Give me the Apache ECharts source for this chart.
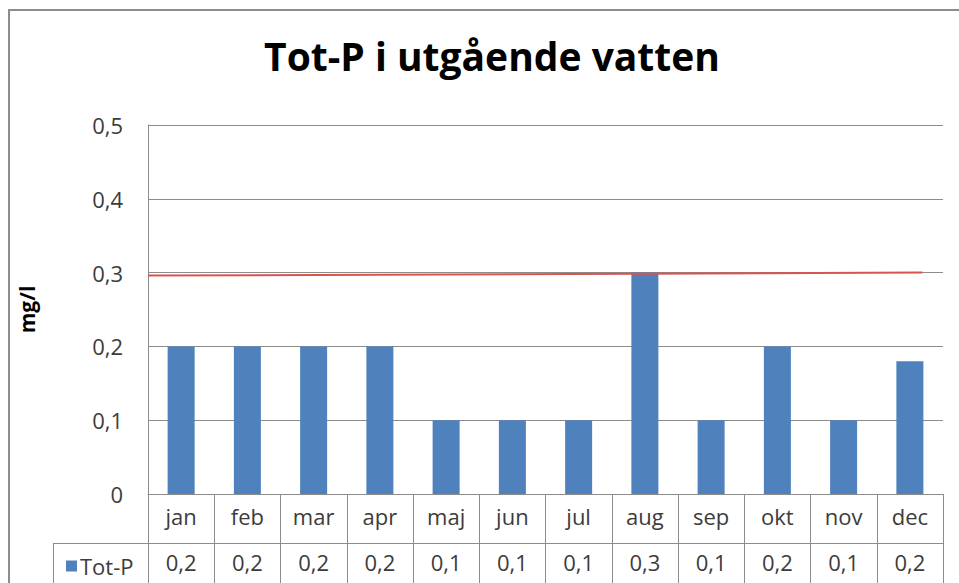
<!DOCTYPE html>
<html>
<head>
<meta charset="utf-8">
<script src="https://cdn.jsdelivr.net/npm/echarts@6/dist/echarts.min.js"></script>
<style>
    html, body { margin:0; padding:0; background:#fff; }
    #main { width:959px; height:583px; }
</style>
</head>
<body>
    <div id="main"></div>
    <script type="text/javascript">
        // data
        var months = ['jan','feb','mar','apr','maj','jun','jul','aug','sep','okt','nov','dec'];
        var totP = [0.2, 0.2, 0.2, 0.2, 0.1, 0.1, 0.1, 0.3, 0.1, 0.2, 0.1, 0.18];
        var yTicks = [0, 0.1, 0.2, 0.3, 0.4, 0.5];
        // red line (x as share of plot width, y in mg/l)
        var limitLine = [[0, 0.296], [0.974, 0.3]];

        var txt = '#3c3c3c';
        var gray = '#8c8c8c';
        var font = 'Open Sans';
        var fs = 22;

        function comma(v) {
            return String(v).replace('.', ',');
        }

        var myChart = echarts.init(document.getElementById('main'), null, {renderer: 'svg'});
        var option = {
            animation: false,
            title: {
                text: 'Tot-P i utgående vatten',
                left: 487,
                textAlign: 'center',
                top: 31,
                textStyle: { fontFamily: font, fontWeight: 'bold', fontSize: 39, color: '#000' }
            },
            legend: {
                data: ['Tot-P'],
                left: 61,
                top: 550,
                icon: 'rect',
                itemWidth: 11,
                itemHeight: 11,
                itemGap: 4,
                textStyle: { fontFamily: font, fontSize: fs, color: txt, padding: [0, 0, 0, -2] }
            },
            grid: {
                left: 148,
                top: 125,
                width: 795,
                height: 369
            },
            graphic: [
                { type: 'rect', shape: { x: 9, y: 10, width: 970, height: 600 }, style: { fill: 'none', stroke: gray, lineWidth: 2 }, silent: true },
                { type: 'line', shape: { x1: 53, y1: 543.5, x2: 148, y2: 543.5 }, style: { stroke: gray, lineWidth: 1 } },
                { type: 'line', shape: { x1: 53.5, y1: 543, x2: 53.5, y2: 583 }, style: { stroke: gray, lineWidth: 1 } }
            ],
            xAxis: [
                {
                    type: 'category',
                    data: months,
                    axisLine: { lineStyle: { color: gray } },
                    axisTick: { show: true, interval: 0, length: 89, lineStyle: { color: gray } },
                    axisLabel: { interval: 0, margin: 11, fontFamily: font, fontSize: fs, color: txt }
                },
                {
                    type: 'category',
                    data: months,
                    position: 'bottom',
                    offset: 49,
                    axisLine: { lineStyle: { color: gray } },
                    axisTick: { show: false },
                    axisLabel: {
                        interval: 0, margin: 8, fontFamily: font, fontSize: fs, color: txt,
                        formatter: function (v, i) { return comma(totP[i].toFixed(1)); }
                    }
                },
                {
                    type: 'value',
                    min: 0,
                    max: 1,
                    show: false
                }
            ],
            yAxis: {
                type: 'value',
                min: yTicks[0],
                max: yTicks[yTicks.length - 1],
                interval: 0.1,
                name: 'mg/l',
                nameLocation: 'middle',
                nameGap: 111,
                nameTextStyle: { fontFamily: font, fontWeight: 'bold', fontSize: 21, color: '#000' },
                axisLine: { show: true, lineStyle: { color: gray } },
                axisTick: { show: false },
                splitLine: { lineStyle: { color: gray } },
                axisLabel: {
                    margin: 25, fontFamily: font, fontSize: fs, color: txt,
                    formatter: function (v) { return comma(Math.round(v * 10) / 10); }
                }
            },
            series: [
                {
                    name: 'Tot-P',
                    type: 'bar',
                    data: totP,
                    barWidth: 27,
                    itemStyle: { color: '#4f81bd' }
                },
                {
                    name: 'gräns',
                    type: 'line',
                    xAxisIndex: 2,
                    data: limitLine,
                    symbol: 'none',
                    lineStyle: { color: '#d9534f', width: 2 },
                    z: 5
                }
            ]
        };
        myChart.setOption(option);
    </script>
</body>
</html>
